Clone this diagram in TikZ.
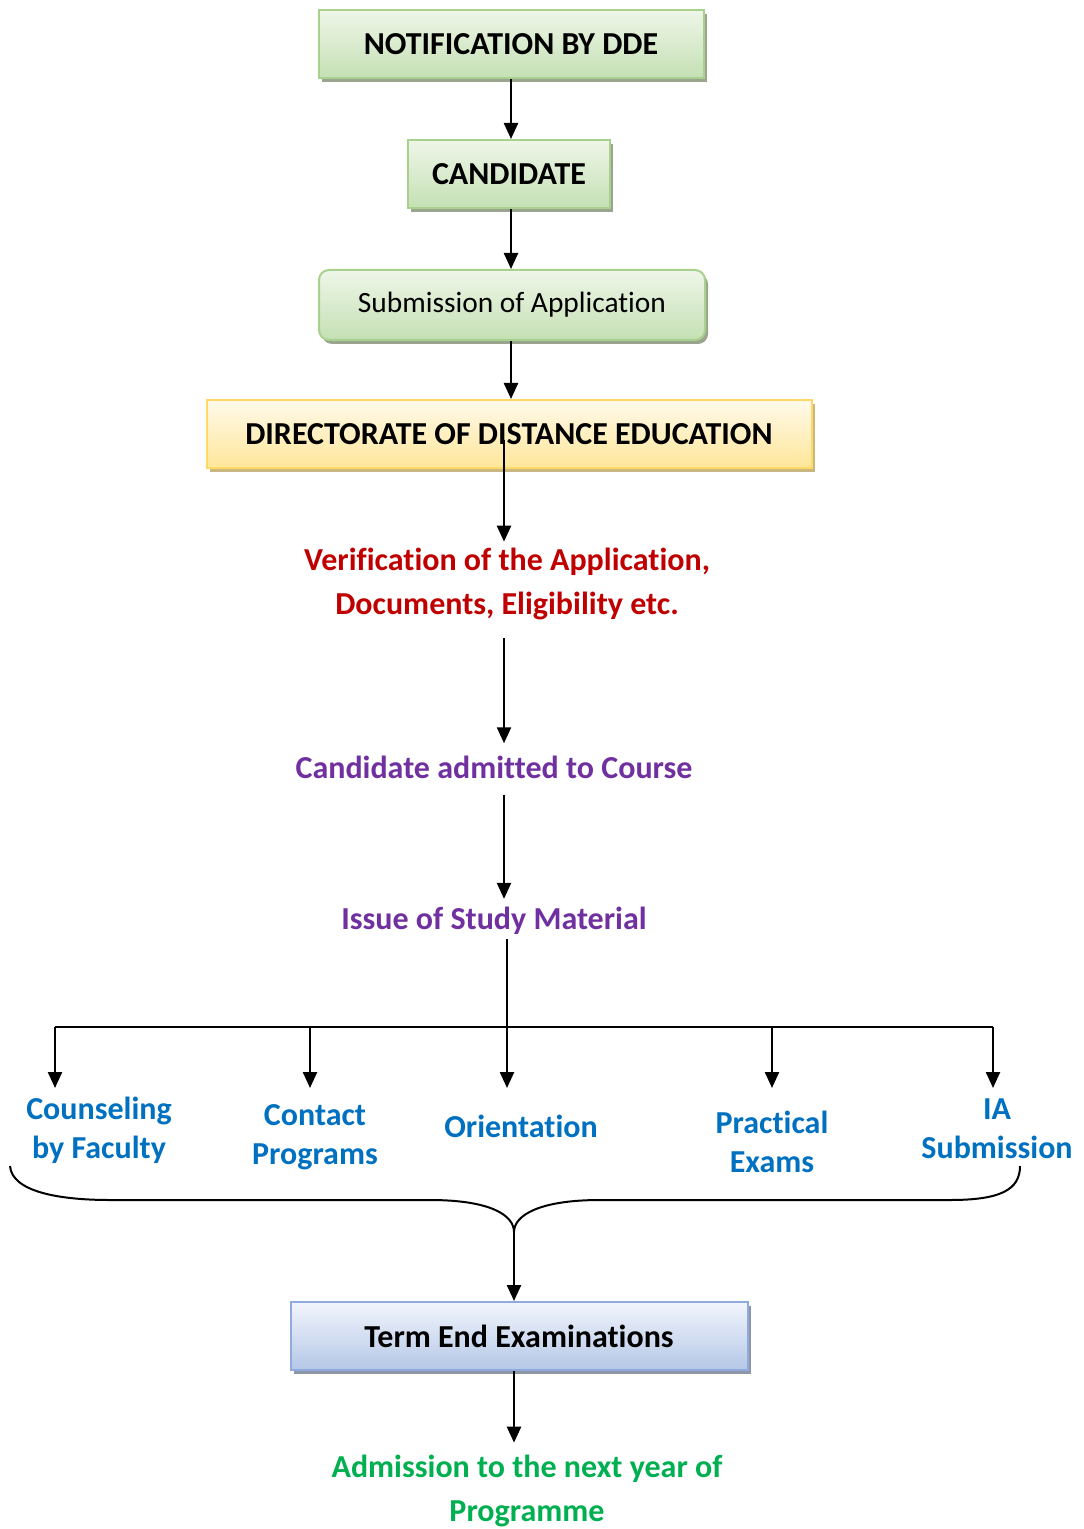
\documentclass[tikz,border=0pt]{standalone}
\usepackage{fontspec}
\setmainfont{Carlito}[Ligatures=NoCommon]
\usetikzlibrary{arrows.meta,shadows}

\begin{document}
\begin{tikzpicture}[x=0.5pt,y=-0.5pt,
  arr/.style={line width=1.2pt,-{Triangle[length=8pt,width=7pt]}},
  box/.style={draw=#1,line width=1pt,minimum height=34pt,inner sep=2pt,
    font=\fontsize{16}{22}\selectfont\bfseries},
  greenbox/.style={box=grnedge,top color=grntop,bottom color=grnbot,
    drop shadow={shadow xshift=1.5pt,shadow yshift=-2pt,fill=grnshade,opacity=1}},
  yellowbox/.style={box=ylwedge,top color=ylwtop,bottom color=ylwbot,
    drop shadow={shadow xshift=1.5pt,shadow yshift=-2pt,fill=ylwshade,opacity=1}},
  bluebox/.style={box=bluedge,top color=blutop,bottom color=blubot,
    drop shadow={shadow xshift=1.5pt,shadow yshift=-2pt,fill=blushade,opacity=1}},
  lbl/.style={align=center,inner sep=2pt,font=\fontsize{16}{22}\selectfont\bfseries},
  branch/.style={lbl,text=ddblue,font=\fontsize{16}{19.5}\selectfont\bfseries}]
\definecolor{grnedge}{HTML}{A9D18E}
\definecolor{grntop}{HTML}{EEF6E8}
\definecolor{grnbot}{HTML}{C5E0B4}
\definecolor{grnshade}{HTML}{9AA48F}
\definecolor{ylwedge}{HTML}{FFD966}
\definecolor{ylwtop}{HTML}{FFFAEB}
\definecolor{ylwbot}{HTML}{FFE699}
\definecolor{ylwshade}{HTML}{C9B77F}
\definecolor{bluedge}{HTML}{8FAADC}
\definecolor{blutop}{HTML}{F2F5FC}
\definecolor{blubot}{HTML}{B4C7E7}
\definecolor{blushade}{HTML}{8E97A8}
\definecolor{ddred}{HTML}{C00000}
\definecolor{ddpurple}{HTML}{7030A0}
\definecolor{ddblue}{HTML}{0070C0}
\definecolor{ddgreen}{HTML}{00B050}
\useasboundingbox (0,0) rectangle (1083,1529);

% boxes at the top
\node[greenbox,minimum width=192.5pt] (notify) at (511,44) {NOTIFICATION BY DDE};
\node[greenbox,minimum width=101pt] (cand) at (509,174) {CANDIDATE};
\node[greenbox,rounded corners=5pt,minimum width=193pt,minimum height=35pt,
  font=\fontsize{14.7}{20}\selectfont] (submit) at (512,305) {Submission of Application};
\node[yellowbox,minimum width=302.5pt] (dde) at (509,434) {DIRECTORATE OF DISTANCE EDUCATION};
\coordinate (ddestart) at (504,440);

% steps after admission
\node[lbl,text=ddred] (verify) at (507,584) {Verification of the Application,\\Documents, Eligibility etc.};
\node[lbl,text=ddpurple] (admit) at (494,767) {Candidate admitted to Course};
\node[lbl,text=ddpurple] (issue) at (494,921) {Issue of Study Material};

\draw[arr] (notify.south) -- (notify.south |- cand.north);
\draw[arr] (notify.south |- cand.south) -- (notify.south |- submit.north);
\draw[arr] (notify.south |- submit.south) -- (notify.south |- dde.north);
\draw[arr,shorten >=1pt] (ddestart) -- (ddestart |- verify.north);
\draw[arr,shorten <=7pt,shorten >=4pt] (ddestart |- verify.south) -- (ddestart |- admit.north);
\draw[arr,shorten <=6pt,shorten >=2pt] (ddestart |- admit.south) -- (ddestart |- issue.north);

% branches
\coordinate (hub) at (507,1027);
\draw[line width=0.6pt] (issue.south -| hub) -- (hub);
\draw[line width=1pt] (55,1027) -- (993,1027);
\foreach \nm/\ax/\lx/\ly/\txt in {couns/55/99/1130/{Counseling\\by Faculty},
    contact/310/315/1137/{Contact\\Programs},
    orient/507/521/1126/{Orientation},
    pract/772/772/1142/{Practical\\Exams},
    iasub/993/997/1129/{IA\\Submission}}
{
  \node[branch] (\nm) at (\lx,\ly) {\txt};
  \coordinate (\nm top) at (\ax,1027);
  \coordinate (\nm end) at (\ax,1088);
  \draw[arr] (\nm top) -- (\nm end);
}

% brace
\coordinate (tip) at (514,1232);
\draw[line width=1pt] (10,1166) .. controls (12,1192) and (60,1200) .. (110,1200) -- (430,1200)
  .. controls (490,1200) and (514,1215) .. (tip)
  .. controls (514,1215) and (540,1200) .. (600,1200) -- (950,1200)
  .. controls (1000,1200) and (1020,1190) .. (1020,1166);

\node[bluebox,minimum width=228.5pt] (tee) at (519,1336) {Term End Examinations};
\node[lbl,text=ddgreen] (nextyr) at (527,1491) {Admission to the next year of\\Programme};

\draw[arr] (tip) -- (tip |- tee.north);
\draw[arr,shorten >=4pt] (tip |- tee.south) -- (tip |- nextyr.north);
\end{tikzpicture}
\end{document}
